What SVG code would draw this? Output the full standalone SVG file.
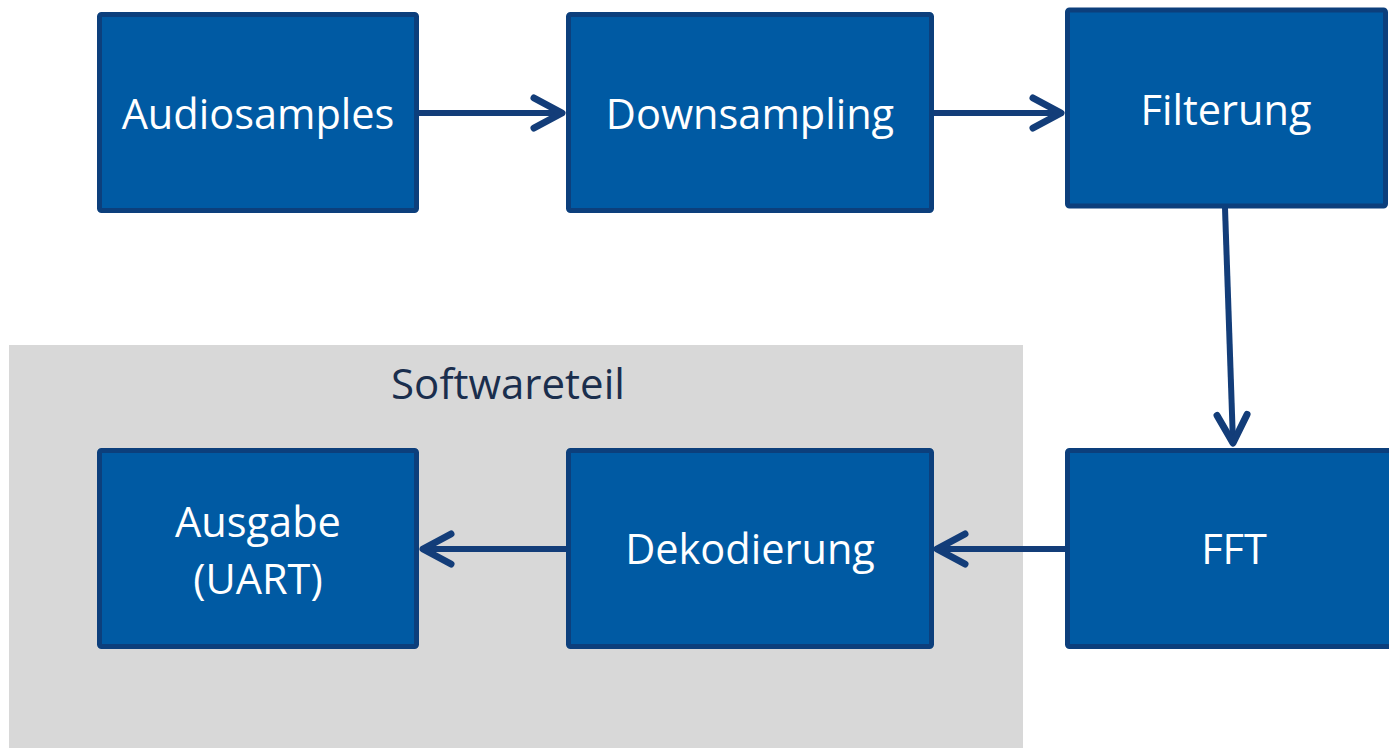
<svg xmlns="http://www.w3.org/2000/svg" width="1389" height="748" viewBox="0 0 1389 748">
<style>
.box{fill:#005aa3;stroke:#0c3f7c;stroke-width:5}
.lbl{font-family:"Open Sans","Liberation Sans",sans-serif;font-size:41.5px;fill:#ffffff;text-anchor:middle}
.con{stroke:#133d79;stroke-width:6;fill:none}
.grp{font-family:"Open Sans","Liberation Sans",sans-serif;font-size:42px;fill:#1a2e4d;text-anchor:middle}
</style>
<defs>
<marker id="ah" markerUnits="userSpaceOnUse" markerWidth="44" markerHeight="44" viewBox="-36 -22 44 44" refX="0" refY="0" orient="auto">
<path d="M-28,-15 L0,0 L-28,15" fill="none" stroke="#133d79" stroke-width="7" stroke-linecap="round" stroke-linejoin="round"/>
</marker>
</defs>
<rect id="softwareteil-bg" x="9" y="345" width="1014" height="403" fill="#d8d8d8"/>
<text class="grp" x="508" y="399">Softwareteil</text>
<g id="connectors">
<line class="con" x1="419" y1="113" x2="562" y2="113" marker-end="url(#ah)"/>
<line class="con" x1="933" y1="113" x2="1061" y2="113" marker-end="url(#ah)"/>
<line class="con" x1="1225" y1="208" x2="1233" y2="443" marker-end="url(#ah)"/>
<line class="con" x1="1065" y1="549" x2="937" y2="549" marker-end="url(#ah)"/>
<line class="con" x1="566" y1="549" x2="423" y2="549" marker-end="url(#ah)"/>
</g>
<g id="audiosamples">
<rect class="box" x="99.5" y="14.5" width="317" height="196" rx="2"/>
<text class="lbl" x="258" y="129">Audiosamples</text>
</g>
<g id="downsampling">
<rect class="box" x="568.5" y="14.5" width="363" height="196" rx="2"/>
<text class="lbl" x="750" y="129">Downsampling</text>
</g>
<g id="filterung">
<rect class="box" x="1067.5" y="10" width="318" height="196" rx="2"/>
<text class="lbl" x="1226" y="125">Filterung</text>
</g>
<g id="fft">
<rect class="box" x="1067.5" y="450.5" width="324" height="196" rx="2"/>
<text class="lbl" x="1234" y="564">FFT</text>
</g>
<g id="dekodierung">
<rect class="box" x="568.5" y="450.5" width="363" height="196" rx="2"/>
<text class="lbl" x="750" y="564">Dekodierung</text>
</g>
<g id="ausgabe">
<rect class="box" x="99.5" y="450.5" width="317" height="196" rx="2"/>
<text class="lbl" x="258" y="537">Ausgabe</text>
<text class="lbl" x="258" y="594">(UART)</text>
</g>
</svg>
